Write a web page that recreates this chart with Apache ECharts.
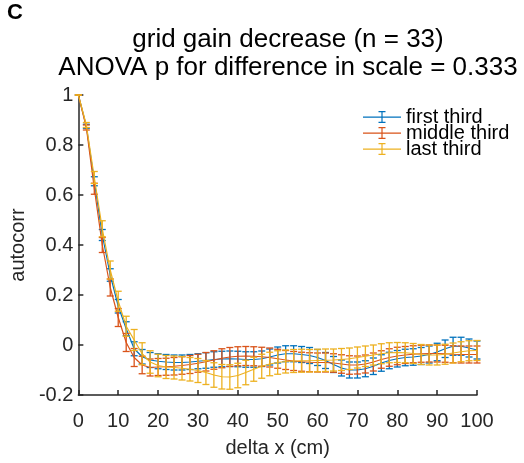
<!DOCTYPE html>
<html>
<head>
<meta charset="utf-8">
<script src="https://cdn.jsdelivr.net/npm/echarts@6/dist/echarts.min.js"></script>
<style>
html,body{margin:0;padding:0;background:#fff;}
#chart{width:524px;height:463px;}
</style>
</head>
<body>
<div id="chart"></div>
<script>
// delta x (cm)
var deltaX = [0,2,4,6,8,10,12,14,16,18,20,22,24,26,28,30,32,34,36,38,40,42,44,46,48,50,52,54,56,58,60,62,64,66,68,70,72,74,76,78,80,82,84,86,88,90,92,94,96,98,100];

var seriesNames = ['first third', 'middle third', 'last third'];

// first third: mean and error
var firstMean = [1, 0.875, 0.655, 0.44, 0.28, 0.155, 0.065, -0.015, -0.047, -0.06,
  -0.065, -0.068, -0.07, -0.07, -0.068, -0.065, -0.062, -0.058, -0.056, -0.055,
  -0.056, -0.058, -0.058, -0.055, -0.048, -0.04, -0.035, -0.035, -0.038, -0.042,
  -0.05, -0.062, -0.078, -0.092, -0.1, -0.1, -0.095, -0.085, -0.072, -0.062,
  -0.055, -0.05, -0.048, -0.044, -0.038, -0.028, -0.015, -0.005, -0.005, -0.012,
  -0.02];
var firstErr = [0, 0.008, 0.018, 0.022, 0.025, 0.027, 0.028, 0.028, 0.029, 0.030,
  0.030, 0.030, 0.030, 0.030, 0.030, 0.030, 0.031, 0.031, 0.031, 0.031,
  0.031, 0.031, 0.031, 0.031, 0.032, 0.032, 0.032, 0.032, 0.032, 0.032,
  0.032, 0.032, 0.032, 0.032, 0.032, 0.032, 0.032, 0.033, 0.033, 0.033,
  0.033, 0.033, 0.033, 0.034, 0.034, 0.035, 0.035, 0.036, 0.036, 0.036,
  0.036];

// middle third
var middleMean = [1, 0.87, 0.625, 0.40, 0.23, 0.11, 0.01, -0.05, -0.08, -0.09,
  -0.088, -0.087, -0.085, -0.082, -0.078, -0.073, -0.067, -0.06, -0.053, -0.048,
  -0.045, -0.044, -0.045, -0.047, -0.05, -0.055, -0.06, -0.064, -0.067, -0.069,
  -0.07, -0.07, -0.072, -0.076, -0.08, -0.08, -0.076, -0.068, -0.058, -0.05,
  -0.044, -0.04, -0.037, -0.035, -0.034, -0.034, -0.035, -0.037, -0.038, -0.038,
  -0.038];
var middleErr = [0, 0.010, 0.022, 0.030, 0.034, 0.036, 0.036, 0.036, 0.035, 0.034,
  0.034, 0.034, 0.035, 0.035, 0.036, 0.036, 0.037, 0.037, 0.038, 0.038,
  0.038, 0.038, 0.038, 0.038, 0.038, 0.038, 0.038, 0.038, 0.038, 0.038,
  0.038, 0.038, 0.037, 0.037, 0.037, 0.036, 0.036, 0.036, 0.035, 0.035,
  0.035, 0.034, 0.034, 0.034, 0.034, 0.034, 0.034, 0.034, 0.034, 0.034,
  0.034];

// last third
var lastMean = [1, 0.88, 0.67, 0.465, 0.30, 0.175, 0.075, 0.02, -0.035, -0.068,
  -0.082, -0.088, -0.09, -0.093, -0.097, -0.102, -0.11, -0.12, -0.127, -0.128,
  -0.122, -0.11, -0.097, -0.085, -0.076, -0.07, -0.066, -0.064, -0.063, -0.063,
  -0.062, -0.061, -0.06, -0.058, -0.055, -0.05, -0.045, -0.04, -0.035, -0.031,
  -0.03, -0.031, -0.034, -0.038, -0.04, -0.04, -0.037, -0.032, -0.027, -0.023,
  -0.022];
var lastErr = [0, 0.010, 0.024, 0.032, 0.036, 0.040, 0.040, 0.042, 0.044, 0.045,
  0.045, 0.046, 0.046, 0.047, 0.047, 0.048, 0.048, 0.049, 0.049, 0.049,
  0.049, 0.049, 0.048, 0.048, 0.047, 0.047, 0.046, 0.046, 0.046, 0.045,
  0.045, 0.045, 0.044, 0.044, 0.043, 0.042, 0.041, 0.040, 0.040, 0.040,
  0.040, 0.040, 0.040, 0.040, 0.040, 0.040, 0.040, 0.040, 0.040, 0.040,
  0.040];

var xTicks = [0,10,20,30,40,50,60,70,80,90,100];
var yTicks = [-0.2,0,0.2,0.4,0.6,0.8,1];

var colors = ['#0072BD', '#D95319', '#EDB120'];
var means = [firstMean, middleMean, lastMean];
var errs = [firstErr, middleErr, lastErr];

var FONT = '"Liberation Sans", Arial, Helvetica, sans-serif';
var TXT = '#262626';

function errRender(color) {
  return function (params, api) {
    var x = api.value(0), lo = api.value(1), hi = api.value(2);
    var pLo = api.coord([x, lo]), pHi = api.coord([x, hi]);
    var hw = 3.5;
    var st = { stroke: color, lineWidth: 1.3 };
    return { type: 'group', children: [
      { type: 'line', shape: { x1: pLo[0], y1: pLo[1], x2: pHi[0], y2: pHi[1] }, style: st },
      { type: 'line', shape: { x1: pLo[0] - hw, y1: pLo[1], x2: pLo[0] + hw, y2: pLo[1] }, style: st },
      { type: 'line', shape: { x1: pHi[0] - hw, y1: pHi[1], x2: pHi[0] + hw, y2: pHi[1] }, style: st }
    ]};
  };
}

var series = [];
for (var s = 0; s < 3; s++) {
  var lineData = [], errData = [];
  for (var i = 0; i < deltaX.length; i++) {
    lineData.push([deltaX[i], means[s][i]]);
    errData.push([deltaX[i], means[s][i] - errs[s][i], means[s][i] + errs[s][i]]);
  }
  series.push({
    name: seriesNames[s], type: 'line', data: lineData, showSymbol: false, symbol: 'none',
    color: colors[s], lineStyle: { color: colors[s], width: 1.2 }, animation: false, z: 2 + s * 2
  });
  series.push({
    name: seriesNames[s] + ' err', type: 'custom', data: errData, renderItem: errRender(colors[s]),
    encode: { x: 0, y: [1, 2] }, animation: false, z: 3 + s * 2, clip: false
  });
}

var icon = 'path://M0,5.5 L38,5.5 L38,6.7 L0,6.7 Z M18.4,0.5 L19.6,0.5 L19.6,11.5 L18.4,11.5 Z M15.5,0 L22.5,0 L22.5,1.2 L15.5,1.2 Z M15.5,10.8 L22.5,10.8 L22.5,12 L15.5,12 Z';

var chart = echarts.init(document.getElementById('chart'), null, { renderer: 'canvas' });
chart.setOption({
  backgroundColor: '#ffffff',
  animation: false,
  title: [
    { text: 'C', left: 2, top: -3, textStyle: { fontFamily: FONT, fontSize: 22, fontWeight: 'bold', color: '#000', lineHeight: 22 } },
    { text: 'grid gain decrease (n = 33)\nANOVA p for difference in scale = 0.333', left: 283, top: 21, textAlign: 'center',
      textStyle: { fontFamily: FONT, fontSize: 26, fontWeight: 'normal', color: '#000', lineHeight: 28 } }
  ],
  legend: {
    orient: 'vertical', left: 363, top: 107, padding: 0, itemWidth: 38, itemHeight: 12, itemGap: -4,
    data: seriesNames.map(function (n) { return { name: n, icon: icon }; }),
    textStyle: { fontFamily: FONT, fontSize: 20, color: '#000' },
    selectedMode: false
  },
  grid: { left: 75, right: 47, top: 95, bottom: 61, containLabel: false },
  xAxis: {
    type: 'value', min: 0, max: 100, interval: 10,
    name: 'delta x (cm)', nameLocation: 'middle', nameGap: 43,
    nameTextStyle: { fontFamily: FONT, fontSize: 20, color: TXT },
    axisLine: { show: true, onZero: false, lineStyle: { color: TXT, width: 1.5 } },
    axisTick: { show: true, inside: true, length: 5, lineStyle: { color: TXT, width: 1.5 } },
    axisLabel: { fontFamily: FONT, fontSize: 20, color: TXT, margin: 16,
      formatter: function (v) { return String(v); } },
    splitLine: { show: false }
  },
  yAxis: {
    type: 'value', min: -0.2, max: 1, interval: 0.2,
    name: 'autocorr', nameLocation: 'middle', nameGap: 44,
    nameTextStyle: { fontFamily: FONT, fontSize: 20, color: TXT },
    axisLine: { show: true, onZero: false, lineStyle: { color: TXT, width: 1.5 } },
    axisTick: { show: true, inside: true, length: 5, lineStyle: { color: TXT, width: 1.5 } },
    axisLabel: { fontFamily: FONT, fontSize: 20, color: TXT, margin: 5,
      formatter: function (v) { var r = Math.round(v * 10) / 10; return String(r); } },
    splitLine: { show: false }
  },
  series: series
});
</script>
</body>
</html>
